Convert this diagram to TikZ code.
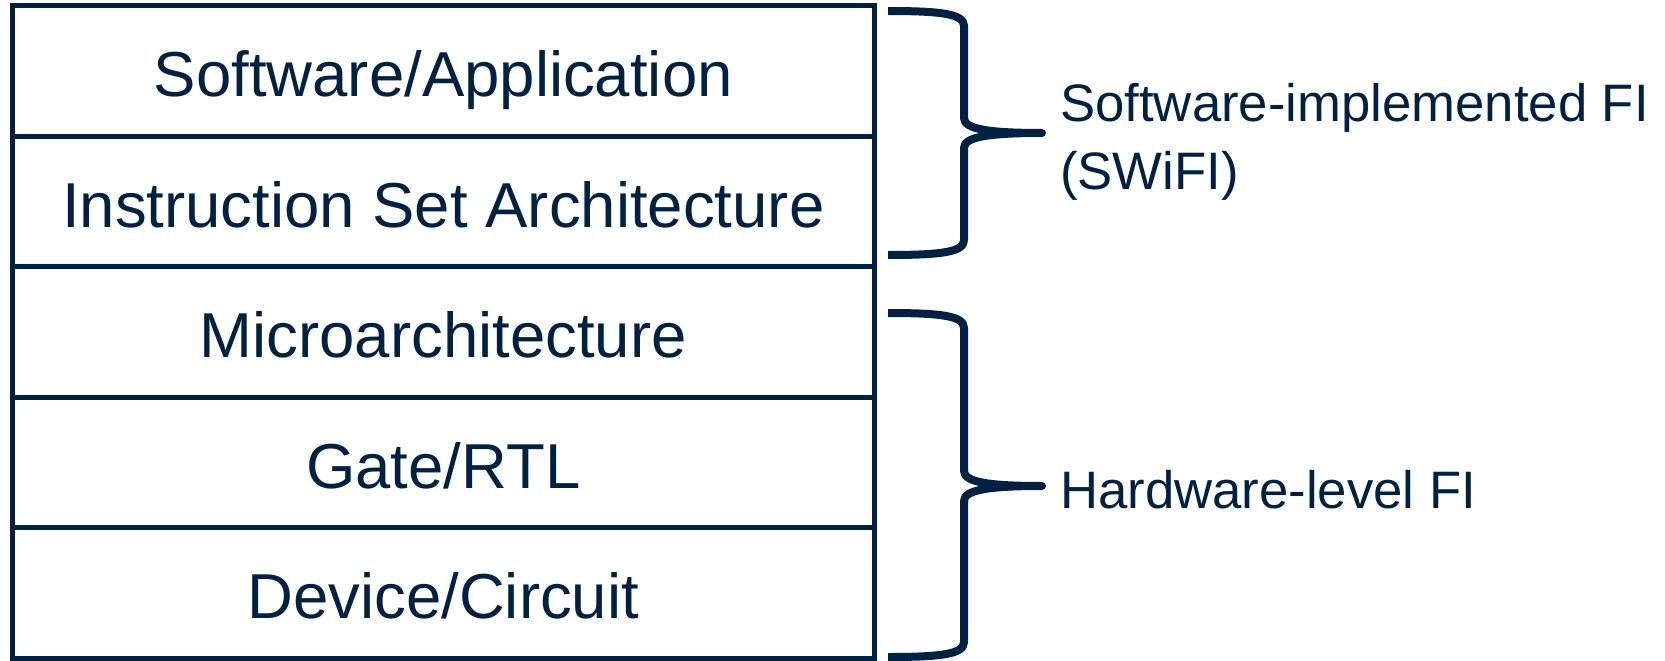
\documentclass[tikz,border=0pt]{standalone}
\usepackage{fontspec}
\setmainfont{Liberation Sans}
\definecolor{navy}{RGB}{0,33,66}
\begin{document}
\begin{tikzpicture}[x=1pt,y=-1pt,
  layer/.style={draw=navy, line width=5pt, rectangle, inner sep=0pt,
    minimum width=861.5pt, minimum height=130.4pt,
    text height=51.4pt, text depth=0pt, text=navy,
    font=\fontsize{63.5}{76}\selectfont},
  side/.style={inner sep=0pt, text=navy, align=left,
    font=\fontsize{52.7}{68}\selectfont},
  brace/.style={draw=navy, line width=8pt, line join=round}]
  \useasboundingbox (0,0) rectangle (1665,661);

  % stack of abstraction layers
  \node[layer] (app)   at (443.25,71.2)  {Software/Application};
  \node[layer] (isa)   at (443.25,201.6) {Instruction Set Architecture};
  \node[layer] (micro) at (443.25,332.0) {Microarchitecture};
  \node[layer] (gate)  at (443.25,462.4) {Gate/RTL};
  \node[layer] (dev)   at (443.25,592.8) {Device/Circuit};

  % curly braces grouping the layers
  \newcommand{\bracepath}[3]{%
    \draw[brace] (888,#1) .. controls (942,#1) and (964,#1+3) .. (964,#1+15)
      -- (964,#2-15) .. controls (964,#2-4) and (988,#2) .. (1042,#2)
      .. controls (988,#2) and (964,#2+4) .. (964,#2+15)
      -- (964,#3-15) .. controls (964,#3-3) and (942,#3) .. (888,#3);}
  \bracepath{11}{133}{255}
  \bracepath{313}{486}{657}

  % the two-line label is anchored on the baseline of its last line
  \node[side, anchor=base west] (sw) at (1060,189)
    {Software-implemented FI\\(SWiFI)};
  \node[side, anchor=base west] (hw) at (1060,508) {Hardware-level FI};
\end{tikzpicture}
\end{document}
